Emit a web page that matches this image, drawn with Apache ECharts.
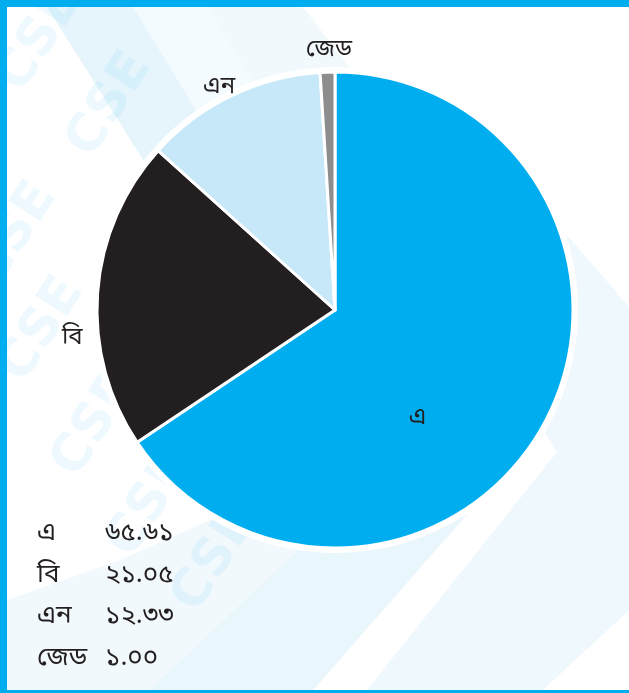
<!DOCTYPE html>
<html>
<head>
<meta charset="utf-8">
<script src="https://cdn.jsdelivr.net/npm/echarts@6/dist/echarts.min.js"></script>
<style>
html,body{margin:0;padding:0;background:#fff;}
#chart{width:629px;height:693px;}
</style>
</head>
<body>
<div id="chart"></div>
<script>
const categories = ['এ', 'বি', 'এন', 'জেড'];
const shareValues = [65.61, 21.05, 12.33, 1.00];
const sliceColors = ['#00AEEF', '#231F20', '#C6E8F8', '#8D8D8F'];

const FONT = "'Noto Sans Bengali','Lohit Bengali','FreeSans','Noto Sans',sans-serif";
const bnDigits = ['০','১','২','৩','৪','৫','৬','৭','৮','৯'];
function toBn(v){ return v.toFixed(2).replace(/[0-9]/g, d => bnDigits[+d]); }

const labelOffsets = [[-25, 52], [0, 47], [13, 2], [30, -11]];

const chart = echarts.init(document.getElementById('chart'), null, {renderer:'canvas'});

const watermarks = [[40,40],[110,105],[15,235],[42,330],[95,425],[215,560],[150,505]];
const graphics = [
  {type:'polygon', z:-10, shape:{points:[[47,7],[133,7],[330,300],[250,330]]}, style:{fill:'#E6F5FC'}},
  {type:'polygon', z:-10, shape:{points:[[133,7],[207,7],[360,240],[300,280]]}, style:{fill:'#F4FBFE'}},
  {type:'polygon', z:-10, shape:{points:[[207,7],[303,7],[420,160],[330,200]]}, style:{fill:'#F1F9FD'}},
  {type:'polygon', z:-10, shape:{points:[[7,690],[313,690],[480,500],[300,480],[120,560],[7,600]]}, style:{fill:'#F2F9FD'}},
  {type:'polygon', z:-10, shape:{points:[[150,690],[313,690],[470,510],[330,520]]}, style:{fill:'#E9F6FC'}},
  {type:'polygon', z:-10, shape:{points:[[367,690],[543,690],[629,610],[629,307],[567,235],[545,300],[545,433],[557,452]]}, style:{fill:'#EFF8FD'}},
  {type:'rect', z:100, shape:{x:0,y:0,width:629,height:7}, style:{fill:'#00AEEF'}},
  {type:'rect', z:100, shape:{x:0,y:0,width:7,height:693}, style:{fill:'#00AEEF'}},
  {type:'rect', z:100, shape:{x:0,y:690,width:629,height:3}, style:{fill:'#00AEEF'}}
];
watermarks.forEach(p => graphics.push({
  type:'text', z:-5, x:p[0], y:p[1], rotation:1.0,
  style:{text:'CSE', fill:'rgba(0,174,239,0.07)', font:"bold 52px 'DejaVu Sans', sans-serif", align:'center', verticalAlign:'middle'}
}));

const data = categories.map((name, i) => ({
  name: name,
  value: shareValues[i],
  itemStyle: {color: sliceColors[i]},
  label: i === 0 ? {position:'inside', offset: labelOffsets[i]} : {position:'outside', offset: labelOffsets[i]}
}));

chart.setOption({
  animation:false,
  backgroundColor:'#ffffff',
  graphic: graphics,
  legend: {
    orient:'vertical', left:27, top:517, icon:'none', itemWidth:0, itemHeight:0, itemGap:15.5,
    selectedMode:false,
    data: categories,
    formatter: name => '{n|' + name + '}{v|' + toBn(shareValues[categories.indexOf(name)]) + '}',
    textStyle: {
      rich: {
        n: {width:68, fontSize:26, fontFamily:FONT, color:'#231F20', height:28},
        v: {fontSize:26, fontFamily:FONT, color:'#231F20', height:28}
      }
    }
  },
  series: [
    {
      type:'pie', silent:true, center:[335,310], radius:243, z:1,
      label:{show:false}, labelLine:{show:false},
      itemStyle:{color:'#ffffff'},
      data:[{value:1, name:'ring'}]
    },
    {
      type:'pie', center:[335,310], radius:238, startAngle:90, clockwise:true, z:2,
      avoidLabelOverlap:false,
      itemStyle:{borderColor:'#ffffff', borderWidth:3},
      label:{show:true, formatter:'{b}', fontSize:24, fontFamily:FONT, color:'#231F20'},
      labelLine:{show:false, length:10, length2:0},
      data: data
    }
  ]
});
</script>
</body>
</html>
